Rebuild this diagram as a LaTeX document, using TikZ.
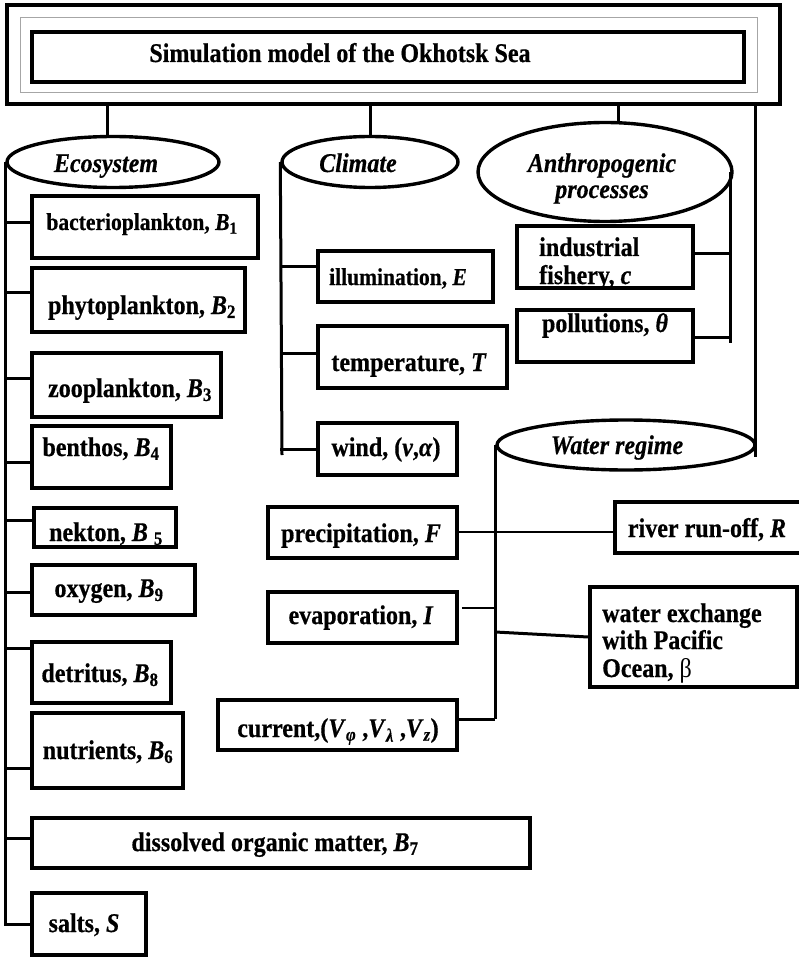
\documentclass[tikz,border=0pt]{standalone}
\usepackage{fontspec}
\setmainfont{Liberation Serif}[FakeStretch=0.89,
  BoldFeatures={FakeBold=0.6}, BoldItalicFeatures={FakeBold=0.6}]
\usetikzlibrary{shapes.geometric}

\tikzset{
  box/.style={draw, rectangle, line width=3.6pt, inner sep=0pt},
  oval/.style={draw, ellipse, line width=3.4pt, inner sep=0pt},
  lbl/.style={inner sep=0pt, anchor=base, font=\bfseries\fontsize{27}{27.5}\selectfont},
  lblleft/.style={lbl, anchor=base west},
  small/.style={font=\bfseries\fontsize{24.2}{25}\selectfont},
  conn/.style={line width=3pt},
  thinconn/.style={line width=2.4pt},
}

% italic variable with a subscript
\newcommand\var[2]{\textit{#1}\textsubscript{#2}}
% horizontal branch from a trunk to a box at height #3
\newcommand\hook[3]{\draw[conn] (#1 |- 0,#3) -- (#2 |- 0,#3);}

\begin{document}
\begin{tikzpicture}[x=1pt, y=-1pt]
\useasboundingbox (0,0) rectangle (799,957);

% ---------- title frame ----------
\node[box, line width=3.4pt, minimum width=773pt, minimum height=99pt] (outer) at (393.5,54.5) {};
\node[draw=gray!70, line width=1pt, rectangle, inner sep=0pt,
      minimum width=737pt, minimum height=75pt] (frame) at (388.5,55.5) {};
\node[box, line width=3.8pt, minimum width=712pt, minimum height=50pt] (titlebox) at (388,57) {};
\node[lbl] (title) at (340,62) {Simulation model of the Okhotsk Sea};

% ---------- group heads ----------
\node[oval, minimum width=212pt, minimum height=51pt] (eco) at (113,162) {};
\node[lbl] (ecoT) at (106,172) {\textit{Ecosystem}};
\node[oval, minimum width=176pt, minimum height=51pt] (clim) at (370,162) {};
\node[lbl] (climT) at (358,172) {\textit{Climate}};
\node[oval, minimum width=254pt, minimum height=99pt] (anth) at (605,172) {};
\node[lbl] (anthT1) at (602,172) {\textit{Anthropogenic}};
\node[lbl] (anthT2) at (602,198) {\textit{processes}};
\node[oval, minimum width=258pt, minimum height=50pt] (water) at (626,445) {};
\node[lbl] (waterT) at (617,454) {\textit{Water regime}};

% drops from the title frame
\coordinate (wEnd) at (755,457);
\draw[conn] (outer.south -| 107,0) -- (107,137);
\draw[conn] (outer.south -| clim.north) -- (clim.north);
\draw[conn] (outer.south -| 618,0) -- (618,124);
\draw[conn] (outer.south -| wEnd) -- (wEnd);

% ---------- ecosystem ----------
\node[box, minimum width=226pt, minimum height=62pt] (bact) at (145,227) {};
\node[lbl, small] at (142,230) {bacterioplankton, \var{B}{1}};
\node[box, minimum width=213pt, minimum height=64pt] (phyto) at (138.5,300) {};
\node[lbl] at (142,314) {phytoplankton, \var{B}{2}};
\node[box, minimum width=189pt, minimum height=64pt] (zoo) at (126.5,385) {};
\node[lbl] at (130,397) {zooplankton, \var{B}{3}};
\node[box, minimum width=139pt, minimum height=62pt] (benth) at (101.5,457) {};
\node[lbl] at (101,456) {benthos, \var{B}{4}};
\node[box, minimum width=142pt, minimum height=39pt] (nekt) at (105,527.5) {};
\node[lbl] at (106,541) {nekton, \textit{B} \textsubscript{5}};
\node[box, minimum width=163pt, minimum height=50pt] (oxy) at (113.5,590) {};
\node[lbl] at (109,597) {oxygen, \var{B}{9}};
\node[box, minimum width=139pt, minimum height=61pt] (detr) at (101.5,672.5) {};
\node[lbl] at (100,682) {detritus, \var{B}{8}};
\node[box, minimum width=151pt, minimum height=75pt] (nutr) at (107.5,750.5) {};
\node[lbl] at (108,759) {nutrients, \var{B}{6}};
\node[box, minimum width=498pt, minimum height=50pt] (dom) at (281,843) {};
\node[lbl] at (275,851) {dissolved organic matter, \var{B}{7}};
\node[box, minimum width=114pt, minimum height=62pt] (salts) at (89,924) {};
\node[lbl] at (84,932) {salts, \textit{S}};

\draw[conn] (eco.west) |- (salts.west);
\hook{eco.west}{bact.west}{223}
\hook{eco.west}{phyto.west}{292}
\hook{eco.west}{zoo.west}{378}
\hook{eco.west}{benth.west}{462}
\hook{eco.west}{nekt.west}{520}
\hook{eco.west}{oxy.west}{592}
\hook{eco.west}{detr.west}{648}
\hook{eco.west}{nutr.west}{768}
\hook{eco.west}{dom.west}{838}

% ---------- climate ----------
\node[box, minimum width=175pt, minimum height=51pt] (illum) at (405.5,276.5) {};
\node[lbl, small] at (398,285) {illumination, \textit{E}};
\node[box, minimum width=189pt, minimum height=62pt] (temp) at (412.5,357) {};
\node[lbl] at (409,371) {temperature, \textit{T}};
\node[box, minimum width=139pt, minimum height=52pt] (wind) at (387.5,449) {};
\node[lbl] at (386,456) {wind, (\textit{v},\textit{α})};

\coordinate (climEnd) at (282,455);
\draw[conn] (clim.west) -- (climEnd);
\hook{clim.west}{illum.west}{267}
\hook{clim.west}{temp.west}{353}
\hook{clim.west}{wind.west}{449}

% ---------- anthropogenic processes ----------
\node[box, minimum width=176pt, minimum height=62pt] (fish) at (605,257) {};
\node[lblleft] at (539,256) {industrial};
\node[lblleft] at (539,284) {fishery, \textit{c}};
\node[box, minimum width=176pt, minimum height=52pt] (poll) at (605,336) {};
\node[lbl] at (605,332) {pollutions, \textit{θ}};

\coordinate (anthEnd) at (730,343);
\draw[conn] (730,172) -- (anthEnd);
\hook{fish.east}{anthEnd}{254}
\hook{poll.east}{anthEnd}{337}

% ---------- water regime ----------
\node[box, minimum width=189pt, minimum height=51pt] (prec) at (362.5,532.5) {};
\node[lbl] at (361,542) {precipitation, \textit{F}};
\node[box, minimum width=189pt, minimum height=51pt] (evap) at (362.5,617.5) {};
\node[lbl] at (361,624) {evaporation, \textit{I}};
\node[box, minimum width=239pt, minimum height=50pt] (cur) at (337.5,725) {};
\node[lbl] at (338,737) {current,(\var{V}{\textit{φ}} ,\var{V}{\textit{λ}} ,\var{V}{\textit{z}})};
\node[box, minimum width=186pt, minimum height=51pt] (river) at (708,527.5) {};
\node[lbl] at (707,537) {river run-off, \textit{R}};
\node[box, minimum width=207pt, minimum height=100pt] (exch) at (693.5,637) {};
\node[lblleft] at (602,622) {water exchange};
\node[lblleft] at (602,649) {with Pacific};
\node[lblleft] at (602,677) {Ocean, \textmd{β}};

\draw[thinconn] (water.west) -- (water.west |- 0,719);
\draw[thinconn] (prec.east |- 0,532) -- (river.west |- 0,532);
\draw[thinconn, shorten <=3pt] (evap.east |- 0,608) -- (water.west |- 0,608);
\draw[conn] (water.west |- 0,632) -- (exch.west |- 0,637);
\draw[conn] (cur.east |- 0,719) -- (water.west |- 0,719);

\end{tikzpicture}
\end{document}
